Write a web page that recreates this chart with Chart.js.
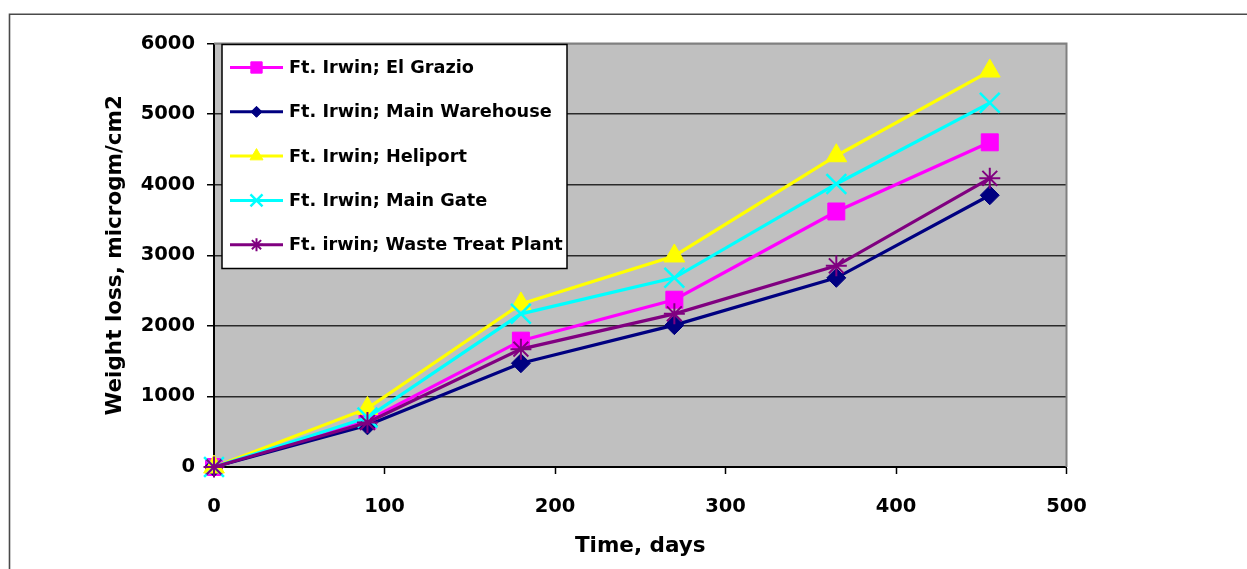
<!DOCTYPE html>
<html>
<head>
<meta charset="utf-8">
<title>Weight loss over time</title>
<script src="https://cdn.jsdelivr.net/npm/chart.js@4.4.0/dist/chart.umd.min.js"></script>
<style>
  html, body { margin: 0; padding: 0; background: #fff; }
  #wrap { width: 1247px; height: 569px; }
</style>
</head>
<body>
<div id="wrap"><canvas id="chart" width="1247" height="569"></canvas></div>
<script>
// exposure time in days
const days = [0, 90, 180, 270, 365, 455];

// weight loss, microgm/cm2, one array per site
const elGrazio      = [0, 660, 1790, 2370, 3620, 4600];
const mainWarehouse = [0, 590, 1470, 2010, 2680, 3850];
const heliport      = [0, 830, 2310, 2990, 4410, 5610];
const mainGate      = [0, 700, 2170, 2680, 4010, 5160];
const wasteTreat    = [0, 630, 1670, 2170, 2850, 4090];

const siteNames = [
    'Ft. Irwin; El Grazio',
    'Ft. Irwin; Main Warehouse',
    'Ft. Irwin; Heliport',
    'Ft. Irwin; Main Gate',
    'Ft. irwin; Waste Treat Plant'
];

const xTickStep = 100;
const yTickStep = 1000;

const fontFamily = '"DejaVu Sans", Arial, sans-serif';

// marker style for each site: chart marker and (smaller) legend marker
const styles = [
    { color: '#ff00ff', point: 'rect',     radius: 12,   legendRadius: 8,   border: 1 },
    { color: '#000080', point: 'rectRot',  radius: 9.5,  legendRadius: 5.5, border: 1 },
    { color: '#ffff00', point: 'triangle', radius: 12,   legendRadius: 7.5, border: 1 },
    { color: '#00ffff', point: 'crossRot', radius: 14,   legendRadius: 8.5, border: 2.5 },
    { color: '#800080', point: 'star',     radius: 10.5, legendRadius: 6.5, border: 2 }
];

const values = [elGrazio, mainWarehouse, heliport, mainGate, wasteTreat];

const datasets = values.map(function (v, i) {
    const s = styles[i];
    return {
        label: siteNames[i],
        data: days.map(function (d, j) { return { x: d, y: v[j] }; }),
        borderColor: s.color,
        backgroundColor: s.color,
        borderWidth: 3.2,
        pointStyle: s.point,
        pointRadius: s.radius,
        pointBorderWidth: s.border,
        pointBackgroundColor: s.color,
        pointBorderColor: s.color,
        tension: 0,
        clip: false,
        // later series sit on top
        order: values.length - i
    };
});

// outer frame, gray plot area and its gray top/right edges
const plotBackground = {
    id: 'plotBackground',
    beforeDraw(chart) {
        const ctx = chart.ctx;
        const a = chart.chartArea;
        ctx.save();
        ctx.strokeStyle = '#4a4a4a';
        ctx.lineWidth = 1.6;
        ctx.beginPath();
        ctx.moveTo(9.5, 580);
        ctx.lineTo(9.5, 14.2);
        ctx.lineTo(1250, 14.2);
        ctx.stroke();
        ctx.fillStyle = '#c0c0c0';
        ctx.fillRect(a.left, a.top, a.right - a.left, a.bottom - a.top);
        ctx.restore();
    },
    beforeDatasetsDraw(chart) {
        const ctx = chart.ctx;
        const a = chart.chartArea;
        ctx.save();
        ctx.strokeStyle = '#808080';
        ctx.lineWidth = 2;
        ctx.beginPath();
        ctx.moveTo(a.left, a.top);
        ctx.lineTo(a.right, a.top);
        ctx.lineTo(a.right, a.bottom);
        ctx.stroke();
        ctx.restore();
    }
};

// white boxed legend inside the top-left corner of the plot
const boxedLegend = {
    id: 'boxedLegend',
    afterDatasetsDraw(chart) {
        const ctx = chart.ctx;
        const a = chart.chartArea;
        const left = a.left + 8, top = a.top + 1;
        const width = 345, height = 224;
        const rowGap = 44.3;
        ctx.save();
        ctx.fillStyle = '#fff';
        ctx.fillRect(left, top, width, height);
        ctx.strokeStyle = '#000';
        ctx.lineWidth = 1.5;
        ctx.strokeRect(left, top, width, height);

        ctx.font = 'bold 17.7px ' + fontFamily;
        ctx.textBaseline = 'middle';
        ctx.textAlign = 'left';
        chart.data.datasets.forEach(function (ds, i) {
            const s = styles[i];
            const y = top + 23 + i * rowGap;
            ctx.strokeStyle = s.color;
            ctx.fillStyle = s.color;
            ctx.lineWidth = 3;
            ctx.beginPath();
            ctx.moveTo(left + 8, y);
            ctx.lineTo(left + 61, y);
            ctx.stroke();
            ctx.lineWidth = s.border;
            Chart.helpers.drawPoint(ctx, {
                pointStyle: s.point,
                radius: s.legendRadius,
                borderWidth: s.border,
                rotation: 0
            }, left + 34.5, y);
            ctx.fillStyle = '#000';
            ctx.fillText(ds.label, left + 67, y + 1);
        });
        ctx.restore();
    }
};

const tickFont = { family: fontFamily, size: 19.5, weight: 'bold' };
const titleFont = { family: fontFamily, size: 21.5, weight: 'bold' };

// plain numbers, no thousands separator
const plainLabel = function (value) { return String(value); };

new Chart(document.getElementById('chart'), {
    type: 'line',
    data: { datasets: datasets },
    options: {
        responsive: false,
        devicePixelRatio: 1,
        animation: false,
        layout: { padding: { left: 100, top: 43.5, right: 180.5, bottom: 0 } },
        plugins: {
            legend: { display: false },
            tooltip: { enabled: false }
        },
        scales: {
            x: {
                type: 'linear',
                min: 0,
                max: 500,
                ticks: { stepSize: xTickStep, color: '#000', font: tickFont, padding: 21, callback: plainLabel },
                grid: { drawOnChartArea: false, color: '#000', tickLength: 7, tickWidth: 1.5 },
                border: { color: '#000', width: 2 },
                title: {
                    display: true,
                    text: 'Time, days',
                    color: '#000',
                    font: titleFont,
                    padding: { top: 0, bottom: 10 }
                },
                afterFit(scale) { scale.height = 102; }
            },
            y: {
                type: 'linear',
                min: 0,
                max: 6000,
                ticks: { stepSize: yTickStep, color: '#000', font: tickFont, padding: 12, callback: plainLabel },
                grid: {
                    color: function (c) { return c.tick && c.tick.value === 6000 ? '#808080' : '#2a2a2a'; },
                    tickColor: '#000',
                    lineWidth: 1.5,
                    tickLength: 7
                },
                border: { color: '#000', width: 2 },
                title: {
                    display: true,
                    text: 'Weight loss, microgm/cm2',
                    color: '#000',
                    font: titleFont,
                    padding: { top: 3, bottom: 0 }
                },
                afterFit(scale) { scale.width = 114; }
            }
        }
    },
    plugins: [plotBackground, boxedLegend]
});
</script>
</body>
</html>
